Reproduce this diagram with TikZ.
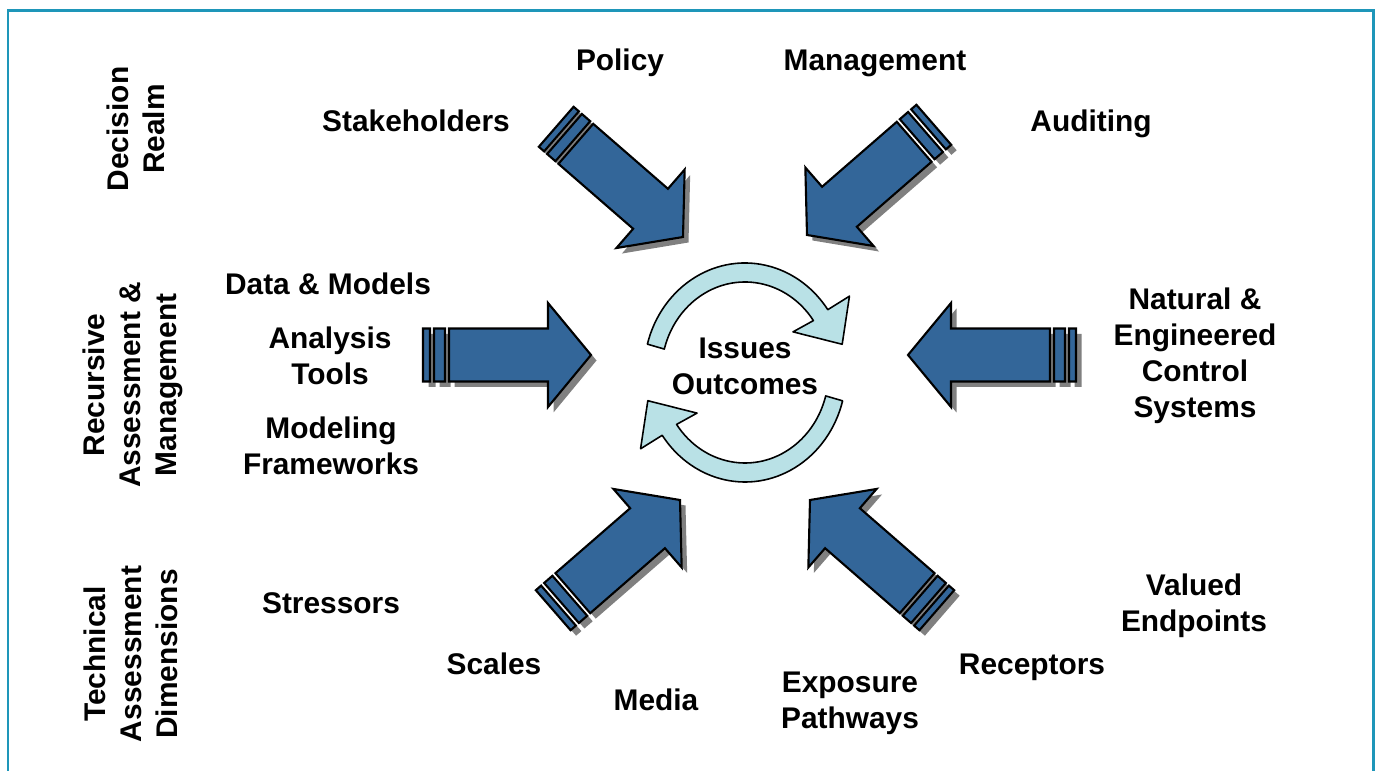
\documentclass[tikz,border=0pt]{standalone}
\usepackage{fontspec}
\setmainfont{Liberation Sans}
\usepackage{xcolor}
\usepackage{tikz}
\usetikzlibrary{positioning}

\definecolor{arrowblue}{RGB}{51,102,153}
\definecolor{cyclefill}{RGB}{185,225,230}
\definecolor{framecol}{RGB}{30,150,185}

\tikzset{
    txt/.style = {align=center, font=\bfseries\fontsize{17}{20.5}\selectfont, inner sep=0pt},
    sidetxt/.style = {txt, rotate=90},
}

\begin{document}
\begin{tikzpicture}[thick]
\tikzset{
    arrowbody/.style = {draw=black, fill=arrowblue, line width=1.2pt},
    arrowshade/.style = {fill=black!50},
    cyclearrow/.style = {draw=black, fill=cyclefill, line width=0.9pt, line join=round},
    fatarrow/.pic = {
        \path[pic actions] (-3.36,-0.53) rectangle (-3.22,0.53)
            (-3.14,-0.53) rectangle (-2.92,0.53)
            (-2.84,-0.53) -- (-0.86,-0.53) -- (-0.86,-1.04) -- (0,0)
            -- (-0.86,1.04) -- (-0.86,0.53) -- (-2.84,0.53) -- cycle;
    }
}
\clip (0,0) rectangle (27.54,15.42);
\draw[framecol, line width=1.7pt] (0.16,-0.6) rectangle (27.46,15.20);
%
\coordinate (tl) at (13.66,10.68);
\coordinate (tr) at (16.14,10.72);
\coordinate (lf) at (11.82,8.32);
\coordinate (rt) at (18.16,8.32);
\coordinate (bl) at (13.60,5.42);
\coordinate (br) at (16.20,5.42);
\coordinate (cc) at (14.90,7.97);
%
\foreach \tip/\ang in {tl/-41, tr/-139, lf/0, rt/180, bl/41, br/139}{
    \pic[arrowshade, rotate=\ang] at ([shift={(0.11,-0.11)}]\tip) {fatarrow};
    \pic[arrowbody, rotate=\ang] at (\tip) {fatarrow};
}
%
\begin{scope}[shift={(cc)}, xscale=0.923]
\foreach \r in {0,180}
    \draw[cyclearrow, rotate=\r] (165:2.19) arc[start angle=165, end angle=35, radius=2.19]
        -- (34:2.73) -- (15:2.18) -- (38:1.32) -- (35:1.81)
        arc[start angle=35, end angle=165, radius=1.81] -- cycle;
\end{scope}
%
\node[txt] at (14.90,8.10) (issues) {Issues\\Outcomes};
%
\node[txt] at (12.40,14.16) (policy) {Policy};
\node[txt] at (17.50,14.16) (mgmt) {Management};
\node[txt] at (8.32,13.00) (stake) {Stakeholders};
\node[txt] at (21.82,12.94) (audit) {Auditing};
%
\node[txt] at (6.56,9.74) (data) {Data \& Models};
\node[txt] at (6.60,8.30) (tools) {Analysis\\Tools};
\node[txt] at (6.62,6.50) (frames) {Modeling\\Frameworks};
\node[txt] at (23.90,8.30) (ctrl) {Natural \&\\Engineered\\Control\\Systems};
%
\node[txt] at (6.62,3.36) (stress) {Stressors};
\node[txt] at (9.88,2.14) (scales) {Scales};
\node[txt] at (13.12,1.42) (media) {Media};
\node[txt] at (17.00,1.36) (expo) {Exposure\\Pathways};
\node[txt] at (20.64,2.08) (recep) {Receptors};
\node[txt] at (23.88,3.30) (valued) {Valued\\Endpoints};
%
\node[sidetxt] at (2.72,12.84) (decision) {Decision\\Realm};
\node[sidetxt] at (2.66,7.72) (recursive) {Recursive\\Assessment \&\\Management};
\node[sidetxt] at (2.62,2.34) (technical) {Technical\\Assessment\\Dimensions};
\end{tikzpicture}
\end{document}
